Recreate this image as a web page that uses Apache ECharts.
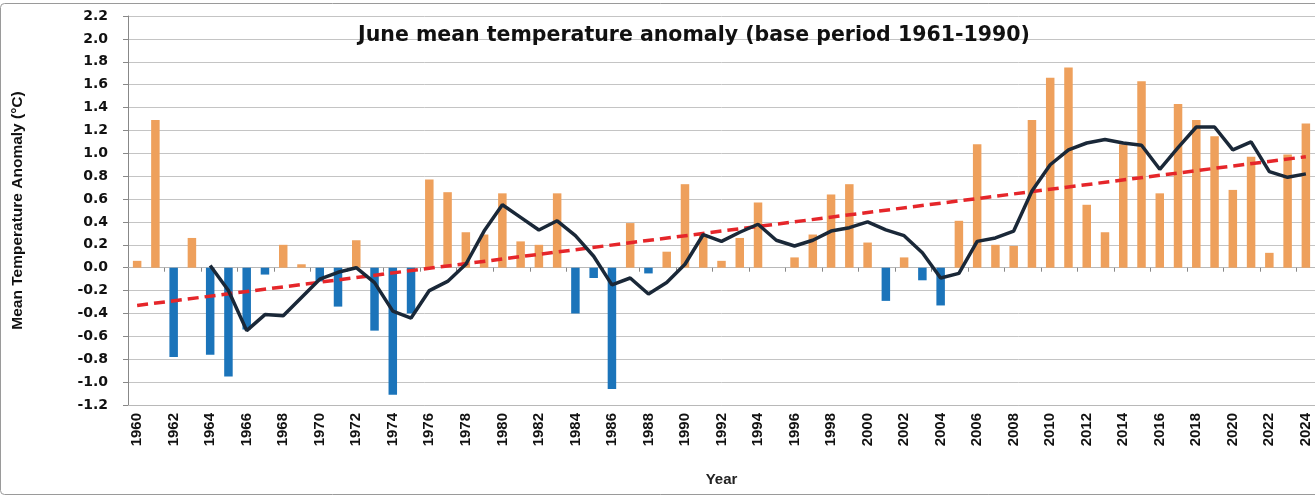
<!DOCTYPE html>
<html>
<head>
<meta charset="utf-8">
<script src="https://cdn.jsdelivr.net/npm/echarts@6/dist/echarts.min.js"></script>
<style>
html,body{margin:0;padding:0;background:#fff;}
#chart{width:1315px;height:498px;}
</style>
</head>
<body>
<div id="chart"></div>
<script>
var years = [];
for (var y = 1960; y <= 2024; y++) years.push(String(y));

var anomaly = [
  0.06, 1.29, -0.78, 0.26, -0.76, -0.95, -0.54, -0.06, 0.20, 0.03,
  -0.12, -0.34, 0.24, -0.55, -1.11, -0.40, 0.77, 0.66, 0.31, 0.29,
  0.65, 0.23, 0.20, 0.65, -0.40, -0.09, -1.06, 0.39, -0.05, 0.14,
  0.73, 0.29, 0.06, 0.26, 0.57, 0.00, 0.09, 0.29, 0.64, 0.73,
  0.22, -0.29, 0.09, -0.11, -0.33, 0.41, 1.08, 0.20, 0.19, 1.29,
  1.66, 1.75, 0.55, 0.31, 1.08, 1.63, 0.65, 1.43, 1.29, 1.15,
  0.68, 0.97, 0.13, 0.99, 1.26
];

var movingAvg = [
  null, null, null, null, 0.02, -0.20, -0.55, -0.41, -0.42, -0.26,
  -0.10, -0.04, 0.00, -0.13, -0.38, -0.44, -0.20, -0.12, 0.03, 0.32,
  0.55, 0.44, 0.33, 0.41, 0.28, 0.10, -0.15, -0.09, -0.23, -0.13,
  0.03, 0.29, 0.23, 0.31, 0.38, 0.24, 0.19, 0.24, 0.32, 0.35,
  0.40, 0.33, 0.28, 0.13, -0.09, -0.05, 0.23, 0.26, 0.32, 0.67,
  0.90, 1.03, 1.09, 1.12, 1.09, 1.07, 0.86, 1.05, 1.23, 1.23,
  1.03, 1.10, 0.84, 0.79, 0.82
];

// linear trend end points (1960 and 2024)
var trendStart = -0.33;
var trendEnd = 0.97;

var trend = years.map(function (_, i) {
  if (i === 0) return trendStart;
  if (i === years.length - 1) return trendEnd;
  return null;
});

var chart = echarts.init(document.getElementById('chart'));
chart.setOption({
  animation: false,
  backgroundColor: '#ffffff',
  title: {
    text: 'June mean temperature anomaly (base period 1961-1990)',
    left: 689, top: 20, textAlign: 'center',
    textStyle: { fontFamily: 'DejaVu Sans', fontWeight: 'bold', fontSize: 20.5, color: '#111' }
  },
  graphic: [{
    type: 'rect', silent: true, z: -1,
    shape: { x: 0.5, y: 3.5, width: 1340, height: 491, r: 4 },
    style: { fill: 'none', stroke: '#9a9a9a', lineWidth: 1 }
  }],
  grid: { left: 128, top: 16, right: -2, bottom: 93, containLabel: false },
  xAxis: [{
    type: 'category', data: years, position: 'bottom',
    name: 'Year', nameLocation: 'middle', nameGap: 67,
    nameTextStyle: { fontFamily: 'Liberation Sans', fontWeight: 'bold', fontSize: 15, color: '#222' },
    axisLine: { onZero: false, lineStyle: { color: '#b8b8b8' } },
    axisTick: { show: false },
    axisLabel: {
      interval: 1, rotate: 90, margin: 8,
      fontFamily: 'Liberation Sans', fontWeight: 'bold', fontSize: 15, color: '#111'
    }
  }, {
    type: 'category', data: years, position: 'bottom',
    axisLine: { onZero: true, lineStyle: { color: '#b8b8b8' } },
    axisTick: { show: true, interval: 1, length: 4, lineStyle: { color: '#888' } },
    axisLabel: { show: false }
  }],
  yAxis: {
    type: 'value', min: -1.2, max: 2.2, interval: 0.2,
    name: 'Mean Temperature Anomaly (\u00B0C)', nameLocation: 'middle', nameGap: 102,
    nameTextStyle: { fontFamily: 'Liberation Sans', fontWeight: 'bold', fontSize: 15.5, color: '#111' },
    axisLine: { show: true, lineStyle: { color: '#888' } },
    axisTick: { show: true, length: 5, lineStyle: { color: '#888' } },
    splitLine: { lineStyle: { color: '#c4c4c4', width: 1 } },
    axisLabel: {
      margin: 20,
      formatter: function (v) { return v.toFixed(1); },
      fontFamily: 'DejaVu Sans', fontWeight: 'bold', fontSize: 14, color: '#111'
    }
  },
  series: [{
    type: 'bar', data: anomaly, barWidth: 8.5, z: 2,
    itemStyle: {
      color: function (p) { return p.value >= 0 ? '#EEA05C' : '#1B74BA'; }
    }
  }, {
    type: 'line', data: trend, connectNulls: true, symbol: 'none', z: 3,
    lineStyle: { color: '#E5262A', width: 3.5, type: [11, 6] }
  }, {
    type: 'line', data: movingAvg, symbol: 'none', z: 4,
    lineStyle: { color: '#1A2838', width: 3.5 }
  }]
});
</script>
</body>
</html>
